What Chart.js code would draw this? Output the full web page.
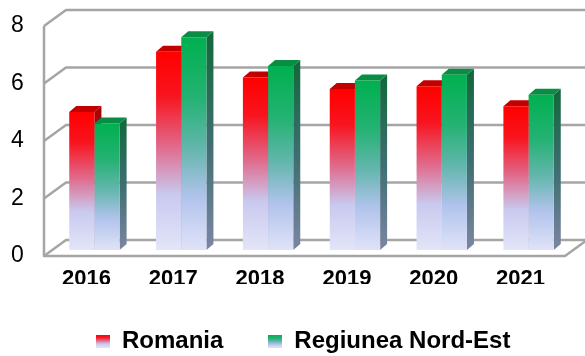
<!DOCTYPE html>
<html>
<head>
<meta charset="utf-8">
<script src="https://cdn.jsdelivr.net/npm/chart.js@4.4.0/dist/chart.umd.min.js"></script>
<style>
  html, body { margin: 0; padding: 0; background: #fff; }
</style>
</head>
<body>
<canvas id="rateChart" width="585" height="356"></canvas>
<script>
const years = ['2016', '2017', '2018', '2019', '2020', '2021'];
const romania = [4.8, 6.9, 6.0, 5.6, 5.7, 5.0];
const nordEst = [4.4, 7.4, 6.4, 5.9, 6.1, 5.4];
const yMax = 8;
const yStep = 2;

// colour ramps, top of bar -> floor
const redFront = [[0, '#ff0000'], [0.22, '#f8141e'], [0.48, '#e06a8c'], [0.72, '#c9c9ef'], [1, '#e3e5f8']];
const greenFront = [[0, '#00b050'], [0.28, '#23b272'], [0.52, '#62b6ac'], [0.75, '#b1c3ec'], [1, '#e0e3f8']];
const redSide = [[0, '#a80000'], [0.4, '#9a3a50'], [1, '#8d93ad']];
const greenSide = [[0, '#14683e'], [0.5, '#3f6e72'], [1, '#7c86a2']];
const redTop = '#c20000';
const greenTop = '#0a8c44';

// 3d offsets relative to the plane the bars stand in
const FRONT = { dx: -7, dy: 6 };
const BACK = { dx: 15, dy: -10 };
const BAR = { dx: 7, dy: -6 };

function ramp(ctx, y0, y1, stops) {
  const g = ctx.createLinearGradient(0, y0, 0, y1);
  stops.forEach(s => g.addColorStop(s[0], s[1]));
  return g;
}

function barFill(stops) {
  return (c) => {
    const chart = c.chart;
    if (!chart.chartArea || c.raw === undefined) return stops[0][1];
    const y = chart.scales.y;
    return ramp(chart.ctx, y.getPixelForValue(c.raw), y.getPixelForValue(0), stops);
  };
}

// small gradient square for the legend
function swatch(stops) {
  const c = document.createElement('canvas');
  c.width = 14;
  c.height = 13;
  const g = c.getContext('2d');
  g.fillStyle = ramp(g, 0, 13, stops);
  g.fillRect(0, 0, 14, 13);
  return c;
}

const depthPlugin = {
  id: 'depth',
  beforeDatasetsDraw(chart) {
    const { ctx, chartArea: a } = chart;
    const y = chart.scales.y;
    const fL = a.left + FRONT.dx, fR = a.right + FRONT.dx;
    const bL = a.left + BACK.dx, bR = a.right + BACK.dx;
    ctx.save();
    ctx.strokeStyle = '#a5a5a5';
    ctx.lineWidth = 2.5;
    ctx.lineJoin = 'round';

    // back wall grid with the diagonals to the front axis
    y.ticks.forEach(t => {
      const p = y.getPixelForValue(t.value);
      ctx.beginPath();
      ctx.moveTo(fL, p + FRONT.dy);
      ctx.lineTo(bL, p + BACK.dy);
      ctx.lineTo(bR, p + BACK.dy);
      ctx.stroke();
    });

    // front axis + floor edge
    const p0 = y.getPixelForValue(0), pTop = y.getPixelForValue(yMax);
    ctx.beginPath();
    ctx.moveTo(fL, pTop + FRONT.dy);
    ctx.lineTo(fL, p0 + FRONT.dy);
    ctx.lineTo(fR, p0 + FRONT.dy);
    ctx.lineTo(bR, p0 + BACK.dy);
    ctx.stroke();

    // side and top faces of every bar
    chart.data.datasets.forEach((ds, i) => {
      chart.getDatasetMeta(i).data.forEach(bar => {
        const { x, y: top, base, width } = bar.getProps(['x', 'y', 'base', 'width'], true);
        const l = x - width / 2, r = x + width / 2;
        ctx.fillStyle = ramp(ctx, top, base, ds.sideStops);
        ctx.beginPath();
        ctx.moveTo(r, top);
        ctx.lineTo(r + BAR.dx, top + BAR.dy);
        ctx.lineTo(r + BAR.dx, base + BAR.dy);
        ctx.lineTo(r, base);
        ctx.closePath();
        ctx.fill();

        ctx.fillStyle = ds.topColor;
        ctx.beginPath();
        ctx.moveTo(l, top);
        ctx.lineTo(l + BAR.dx, top + BAR.dy);
        ctx.lineTo(r + BAR.dx, top + BAR.dy);
        ctx.lineTo(r, top);
        ctx.closePath();
        ctx.fill();
      });
    });
    ctx.restore();
  }
};

new Chart(document.getElementById('rateChart'), {
  type: 'bar',
  data: {
    labels: years,
    datasets: [
      {
        label: 'Romania',
        data: romania,
        backgroundColor: barFill(redFront),
        sideStops: redSide,
        topColor: redTop,
        legendIcon: swatch(redFront),
        borderWidth: 0,
        categoryPercentage: 0.58,
        barPercentage: 1.0
      },
      {
        label: 'Regiunea Nord-Est',
        data: nordEst,
        backgroundColor: barFill(greenFront),
        sideStops: greenSide,
        topColor: greenTop,
        legendIcon: swatch(greenFront),
        borderWidth: 0,
        categoryPercentage: 0.58,
        barPercentage: 1.0
      }
    ]
  },
  options: {
    responsive: false,
    animation: false,
    layout: { padding: { top: 20, right: 13, bottom: -7, left: 11 } },
    scales: {
      x: {
        grid: { display: false, drawTicks: false },
        border: { display: false },
        ticks: {
          color: '#000',
          font: { family: 'Liberation Sans', size: 22, weight: 'bold' },
          padding: 16,
          labelOffset: -8,
          maxRotation: 0
        },
        afterFit(scale) { scale.height = 34; }
      },
      y: {
        min: 0,
        max: yMax,
        grid: { display: false, drawTicks: false },
        border: { display: false },
        ticks: {
          stepSize: yStep,
          color: '#000',
          font: { family: 'Liberation Sans', size: 23 },
          padding: 0,
          crossAlign: 'far',
          labelOffset: 6
        },
        afterFit(scale) { scale.width = 40; }
      }
    },
    plugins: {
      tooltip: { enabled: false },
      legend: {
        position: 'bottom',
        align: 'start',
        fullSize: false,
        labels: {
          usePointStyle: true,
          boxWidth: 14,
          boxHeight: 13,
          padding: 45,
          color: '#000',
          font: { family: 'Liberation Sans', size: 24, weight: 'bold' },
          generateLabels(chart) {
            return chart.data.datasets.map((ds, i) => ({
              text: ds.label,
              pointStyle: ds.legendIcon,
              fillStyle: 'transparent',
              strokeStyle: 'transparent',
              lineWidth: 0,
              hidden: false,
              fontColor: '#000',
              datasetIndex: i
            }));
          }
        }
      }
    }
  },
  plugins: [depthPlugin]
});
</script>
</body>
</html>
